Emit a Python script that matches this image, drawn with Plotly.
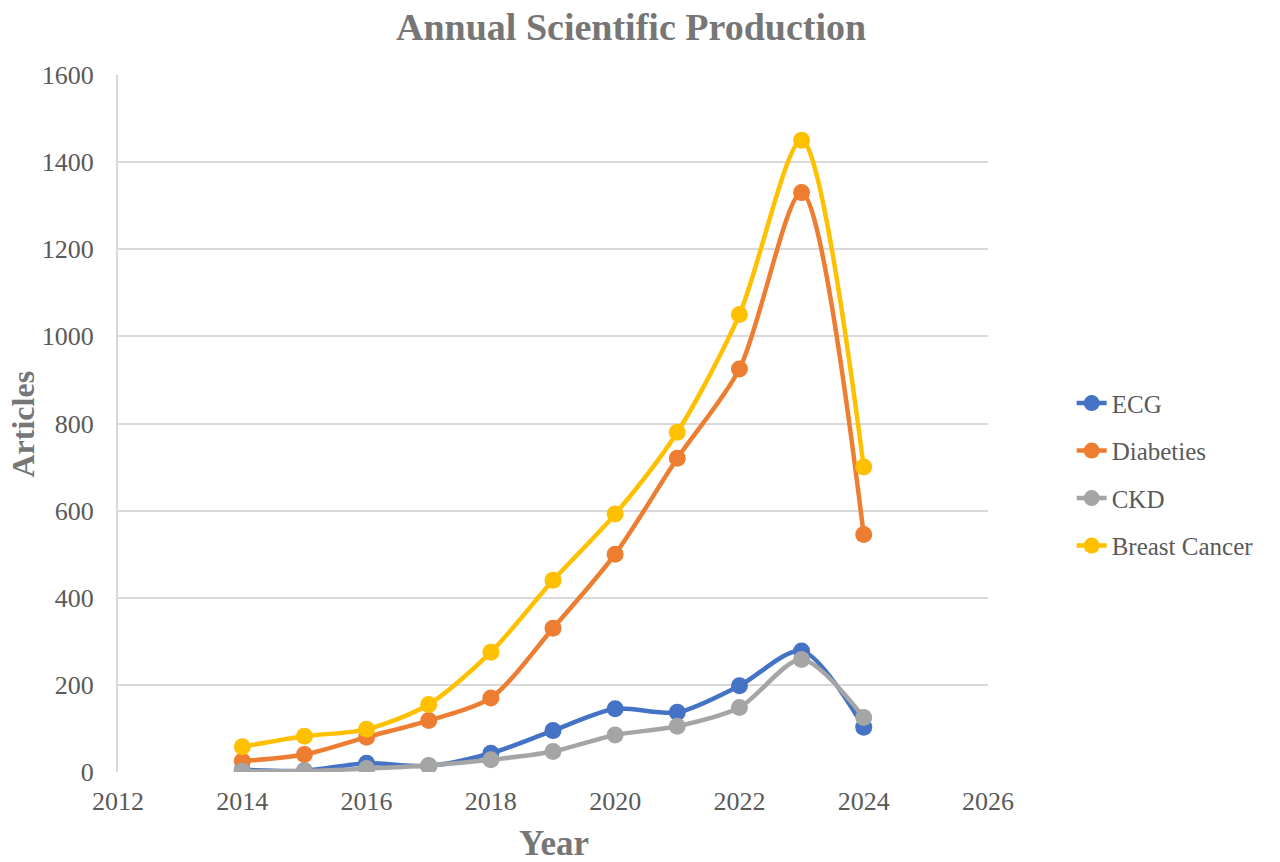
import plotly.graph_objects as go

years = [2014, 2015, 2016, 2017, 2018, 2019, 2020, 2021, 2022, 2023, 2024]
ecg = [5, 3, 20, 14, 43, 95, 145, 137, 198, 278, 103]
diabeties = [25, 40, 80, 118, 170, 330, 500, 720, 925, 1330, 545]
ckd = [2, 2, 8, 15, 28, 47, 85, 105, 148, 258, 125]
breast_cancer = [58, 82, 98, 155, 275, 440, 592, 780, 1050, 1450, 700]

series = [
    ("ECG", ecg, "#4472C4"),
    ("Diabeties", diabeties, "#ED7D31"),
    ("CKD", ckd, "#A5A5A5"),
    ("Breast Cancer", breast_cancer, "#FFC000"),
]

fig = go.Figure()
for name, vals, color in series:
    fig.add_trace(go.Scatter(
        x=years, y=vals, name=name, mode="lines+markers", legendgroup=name,
        line=dict(color=color, width=4.5, shape="spline", smoothing=0.8),
        marker=dict(color=color, size=17),
    ))

font_family = "Liberation Serif"
title_color = "#767676"
fig.update_layout(
    width=1280, height=862,
    paper_bgcolor="white", plot_bgcolor="white",
    margin=dict(l=110, r=300, t=67, b=98, autoexpand=False),
    font=dict(family=font_family, color="#595959"),
    legend=dict(xref="container", yref="container", x=0.831, y=0.459,
                xanchor="left", yanchor="middle",
                font=dict(family=font_family, size=25, color="#595959"),
                traceorder="grouped", tracegroupgap=12, itemwidth=30),
    showlegend=True,
    annotations=[
        dict(text="<b>Annual Scientific Production</b>", xref="paper", yref="paper",
             x=0.5, y=1, xanchor="center", yanchor="middle", xshift=78, yshift=48,
             borderpad=0,
             showarrow=False, font=dict(family=font_family, size=38, color=title_color)),
        dict(text="<b>Year</b>", xref="paper", yref="paper",
             x=0.5, y=0, xanchor="center", yanchor="middle", xshift=1, yshift=-71,
             borderpad=0,
             showarrow=False, font=dict(family=font_family, size=35, color=title_color)),
        dict(text="<b>Articles</b>", xref="paper", yref="paper", textangle=-90,
             x=0, y=0.5, xanchor="center", yanchor="middle", xshift=-96, yshift=-1,
             borderpad=0,
             showarrow=False, font=dict(family=font_family, size=32, color=title_color)),
    ],
)
fig.update_xaxes(
    range=[2012, 2026], dtick=2, tick0=2012, showgrid=False, zeroline=False,
    showline=False, ticks="", ticklabelstandoff=11, automargin=False,
    tickfont=dict(family=font_family, size=26, color="#595959"),
)
fig.update_yaxes(
    range=[0, 1600], dtick=200, showgrid=True, gridcolor="#D9D9D9", gridwidth=2,
    zeroline=False, showline=True, linecolor="#D9D9D9", linewidth=2,
    ticks="", ticklabelstandoff=17, automargin=False,
    tickfont=dict(family=font_family, size=26, color="#595959"),
)

fig.write_html("out.html")
